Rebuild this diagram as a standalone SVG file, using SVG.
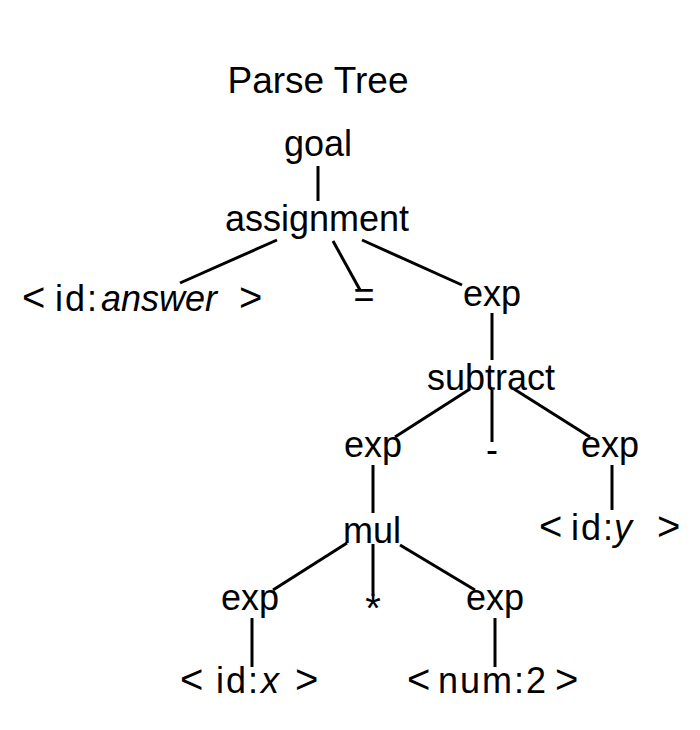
<svg xmlns="http://www.w3.org/2000/svg" width="700" height="730" viewBox="0 0 700 730">
<style>
text{font-family:"Liberation Sans",Arial,sans-serif;font-size:36px;fill:#000;text-anchor:middle}
.s{text-anchor:start}
.it{font-style:italic}
.w{letter-spacing:2px}
.rel{font-size:40px}
line{stroke:#000;stroke-width:3;stroke-linecap:butt}
</style>
<rect width="700" height="730" fill="#fff"/>
<text id="title" x="318" y="93" style="font-size:37px">Parse Tree</text>
<g id="connectors">
<line x1="318" y1="166" x2="318" y2="201"/>
<line x1="277" y1="240" x2="180" y2="283"/>
<line x1="333" y1="241" x2="360" y2="290"/>
<line x1="362" y1="240" x2="462" y2="285"/>
<line x1="492" y1="313" x2="492" y2="360"/>
<line x1="470" y1="389" x2="395" y2="437"/>
<line x1="492" y1="390" x2="492" y2="442"/>
<line x1="514" y1="389" x2="590" y2="437"/>
<line x1="373" y1="465" x2="373" y2="513"/>
<line x1="612" y1="465" x2="612" y2="510"/>
<line x1="347" y1="543" x2="273" y2="590"/>
<line x1="373" y1="544" x2="373" y2="596"/>
<line x1="400" y1="545" x2="475" y2="590"/>
<line x1="252" y1="618" x2="252" y2="667"/>
<line x1="495" y1="618" x2="495" y2="667"/>
</g>
<g id="n-goal"><text x="318" y="156">goal</text></g>
<g id="n-assignment"><text x="317" y="231">assignment</text></g>
<g id="n-id-answer"><text class="s" y="311"><tspan class="rel" x="22">&lt;</tspan><tspan class="w" x="55">id:</tspan><tspan class="it" x="101">answer</tspan><tspan class="rel" x="239">&gt;</tspan></text></g>
<g id="n-eq"><text x="364" y="307">=</text></g>
<g id="n-exp1"><text x="492" y="306">exp</text></g>
<g id="n-subtract"><text x="491" y="390">subtract</text></g>
<g id="n-exp2"><text x="373" y="457">exp</text></g>
<g id="n-minus"><text x="492" y="462">-</text></g>
<g id="n-exp3"><text x="610" y="457">exp</text></g>
<g id="n-id-y"><text class="s" y="540"><tspan class="rel" x="539">&lt;</tspan><tspan class="w" x="571">id:</tspan><tspan class="it" x="614">y</tspan><tspan class="rel" x="657">&gt;</tspan></text></g>
<g id="n-mul"><text x="372" y="543">mul</text></g>
<g id="n-exp4"><text x="250" y="610">exp</text></g>
<g id="n-star"><text x="373" y="622" style="font-size:40px">*</text></g>
<g id="n-exp5"><text x="495" y="610">exp</text></g>
<g id="n-id-x"><text class="s" y="693"><tspan class="rel" x="180">&lt;</tspan><tspan class="w" x="216">id:</tspan><tspan class="it" x="261">x</tspan><tspan class="rel" x="295">&gt;</tspan></text></g>
<g id="n-num2"><text class="s" y="693"><tspan class="rel" x="407">&lt;</tspan><tspan class="w" x="438">num:2</tspan><tspan class="rel" x="555">&gt;</tspan></text></g>
</svg>
